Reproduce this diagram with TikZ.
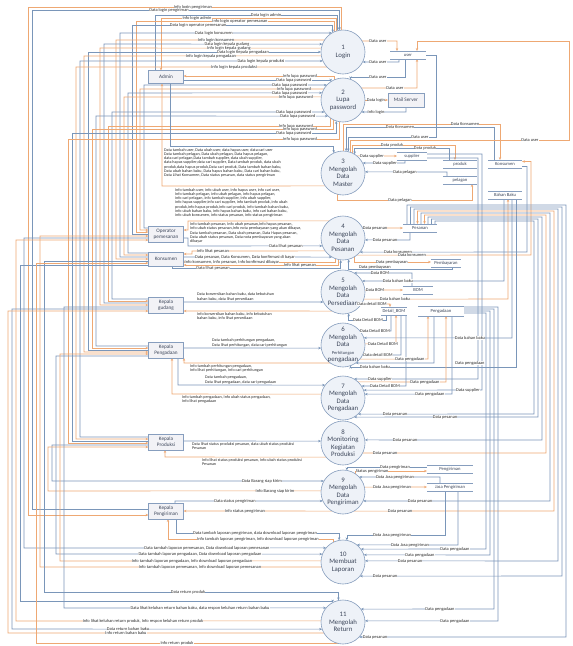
\documentclass[tikz,border=0pt]{standalone}
\usepackage{fontspec}
\setmainfont{Carlito}
\usetikzlibrary{arrows.meta}
\pgfdeclarelayer{back}
\pgfdeclarelayer{bg}
\pgfsetlayers{back,bg,main}
\definecolor{lor}{RGB}{238,168,115}
\definecolor{lbu}{RGB}{122,150,185}
\definecolor{pbd}{RGB}{135,158,190}
\definecolor{pfl}{RGB}{238,242,248}
\definecolor{efl}{RGB}{242,242,246}
\definecolor{txt}{RGB}{45,45,45}
\definecolor{ptx}{RGB}{60,70,90}
\expandafter\def\csname cyP1\endcsname{52}
\expandafter\def\csname cyP2\endcsname{100}
\expandafter\def\csname cyP3\endcsname{173}
\expandafter\def\csname cyP4\endcsname{238}
\expandafter\def\csname cyP5\endcsname{292}
\expandafter\def\csname cyP6\endcsname{345}
\expandafter\def\csname cyP7\endcsname{398}
\expandafter\def\csname cyP8\endcsname{443}
\expandafter\def\csname cyP9\endcsname{492}
\expandafter\def\csname cyP10\endcsname{562}
\expandafter\def\csname cyP11\endcsname{622}
% #1 side L/R, #2 process, #3 explicit anchor angle or empty, #4 y, #5 style, #6 label, #7 label x, #8 rest of path
\newcommand\FLW[8]{%
  \def\flwang{#3}%
  \begin{pgfonlayer}{bg}%
  \ifx\flwang\empty
    \pgfmathsetmacro\flwdy{\csname cy#2\endcsname-(#4)}%
    \ifx L#1%
      \pgfmathtruncatemacro\flwa{round(180-asin(\flwdy/22))}%
    \else
      \pgfmathtruncatemacro\flwa{mod(round(asin(\flwdy/22))+360,360)}%
    \fi
    \draw[#5] (#2.\flwa) -- #8;%
  \else
    \draw[#5] (#2.#3) |- #8;%
  \fi
  \end{pgfonlayer}%
  \def\flwlab{#6}%
  \ifx\flwlab\empty\else\node[lbl] at (#7,#4) {#6};\fi
}
\newcommand\LL[9]{\FLW{L}{#1}{#2}{#3}{#4}{#5}{#6}{(#7,#3) -- (#7,#9) -- (#8.west |- 0,#9)}}
\newcommand\procn[3]{\node[proc] (#1) at (343,#2) {}; \node[ptext] at (#1.center) {#3};}
\newcommand\store[6]{\node[store, minimum width=#4pt, minimum height=#6pt] (#1) at (#2,#3) {#5};
  \draw[sline] (#1.north west) -- (#1.north east) (#1.south west) -- (#1.south east);}
\begin{document}
\begin{tikzpicture}[x=1pt,y=-1pt,
  oline/.style={draw=lor, line width=0.6pt},
  bline/.style={draw=lbu, line width=0.6pt},
  ofl/.style={oline, -{Stealth[length=3pt,width=2.4pt]}},
  dfl/.style={bline, {Stealth[length=3pt,width=2.4pt]}-},
  lbl/.style={font=\fontsize{4.4}{4.6}\selectfont, fill=white, inner sep=0.15pt, text=txt},
  blk/.style={font=\fontsize{4.1}{4.3}\selectfont, align=left, inner sep=0, text=txt, anchor=north west},
  proc/.style={circle, draw=pbd, fill=pfl, minimum size=44pt, inner sep=0, outer sep=0, line width=0.6pt},
  ptext/.style={font=\fontsize{6.8}{7.5}\selectfont, align=center, text=ptx},
  ent/.style={rectangle, draw=pbd, fill=efl, minimum width=35pt, minimum height=14pt, inner sep=0, outer sep=0, font=\fontsize{5.2}{5.8}\selectfont, align=center, text=ptx, line width=0.5pt},
  store/.style={inner sep=0, outer sep=0, font=\fontsize{4.6}{5}\selectfont, text=ptx},
  sline/.style={draw=pbd, line width=0.5pt}]
\begin{pgfonlayer}{back}\fill[white] (0,0) rectangle (573,646);\end{pgfonlayer}
\useasboundingbox (0,0) rectangle (573,646);

% processes
\procn{P1}{52}{1\\Login}
\procn{P2}{100}{2\\Lupa\\password}
\procn{P3}{173}{3\\Mengolah\\Data\\Master}
\procn{P4}{238}{4\\Mengolah\\Data\\Pesanan}
\procn{P5}{292}{5\\Mengolah\\Data\\Persediaan}
\procn{P6}{345}{6\\Mengolah\\Data\\{\fontsize{4.5}{5}\selectfont Perhitungan}\\pengadaan}
\procn{P7}{398}{7\\Mengolah\\Data\\Pengadaan}
\procn{P8}{443}{8\\Monitoring\\Kegiatan\\Produksi}
\procn{P9}{492}{9\\Mengolah\\Data\\Pengiriman}
\procn{P10}{562}{10\\Membuat\\Laporan}
\procn{P11}{622}{11\\Mengolah\\Return}

% external entities
\node[ent, minimum height=13pt] (admin) at (166,77) {Admin};
\node[ent, minimum height=16pt] (op) at (166,234) {Operator\\pemesanan};
\node[ent] (kon) at (166,259) {Konsumen};
\node[ent, minimum height=16pt] (kg) at (166,305) {Kepala\\gudang};
\node[ent, minimum height=16pt] (kpa) at (166,350) {Kepala\\Pengadaan};
\node[ent, minimum height=16pt] (kpd) at (166,442) {Kepala\\Produksi};
\node[ent, minimum height=16pt] (kpr) at (166,511) {Kepala\\Pengiriman};
\node[ent, minimum width=36pt] (mail) at (406,100) {Mail Server};

% data stores
\store{user}{408}{55}{36}{user}{8}
\store{supp}{412}{156}{30}{supplier}{8}
\store{prod}{460}{164}{34}{produk}{8}
\store{pel}{460}{180}{34}{pelagan}{8}
\store{ks}{505}{164}{34}{Konsumen}{8}
\store{bb}{505}{195}{34}{Bahan Baku}{8}
\store{pes}{420}{228}{34}{Pesanan}{8}
\store{pem}{446}{263}{30}{Pembayaran}{8}
\store{bom}{418}{290}{30}{BOM}{8}
\store{dbom}{394}{311}{26}{Detail\_BOM}{8}
\store{pga}{441}{311}{46}{Pengadaan}{10}
\store{pgr}{450}{469}{46}{Pengiriman}{8}
\store{jasa}{450}{487}{46}{Jasa Pengiriman}{8}

% ---------- left flows ----------
% Login
\LL{P1}{94}{7}{ofl}{Info login pengiriman}{193}{28}{kpr}{515}
\LL{P1}{99}{10}{dfl}{Data login pengiriman}{169}{32}{kpr}{509}
\FLW{L}{P1}{104}{15}{dfl}{Data login admin}{266}{(155,15) -- (155,0 |- admin.north)}
\FLW{L}{P1}{109}{18}{ofl}{Info login admin}{197}{(161,18) -- (161,0 |- admin.north)}
\LL{P1}{114}{21}{ofl}{Info login operator pemesanan}{240}{136}{op}{232}
\LL{P1}{118}{25}{dfl}{Data login operator pemesanan}{198}{132}{op}{234}
\LL{P1}{}{33}{dfl}{Data login konsumen}{214}{120}{kon}{257}
\LL{P1}{}{40}{ofl}{Info login konsumen}{216}{116}{kon}{259}
\LL{P1}{}{44}{dfl}{Data login kepala gudang}{227}{104}{kg}{303}
\LL{P1}{}{48}{ofl}{Info login kepala gudang}{229}{100}{kg}{305}
\LL{P1}{}{52}{dfl}{Data login Kepala pengadaan}{243}{88}{kpa}{350}
\LL{P1}{}{56}{ofl}{Info login kepala pengadaan}{211}{84}{kpa}{352}
\LL{P1}{}{61}{dfl}{Data login kepala produksi}{261}{80}{kpd}{437}
\LL{P1}{}{67}{ofl}{Info login kepala produksi}{234}{76}{kpd}{439}
% Lupa password
\FLW{L}{P2}{112}{76}{ofl}{Info lupa password}{300}{(admin.east |- 0,76)}
\FLW{L}{P2}{124}{80}{dfl}{Data lupa password}{294}{(admin.east |- 0,80)}
\LL{P2}{}{85}{dfl}{Data lupa password}{290}{144}{op}{228}
\LL{P2}{}{89}{ofl}{Info lupa password}{294}{140}{op}{230}
\LL{P2}{}{93}{dfl}{Data lupa password}{290}{128}{kon}{253}
\LL{P2}{}{97}{ofl}{Info lupa password}{296}{124}{kon}{255}
\LL{P2}{}{112}{dfl}{Data lupa password}{294}{112}{kg}{299}
\LL{P2}{}{116}{dfl}{Data lupa password}{298}{96}{kpa}{346}
\LL{P2}{236}{126}{ofl}{Info lupa password}{296}{108}{kg}{301}
\LL{P2}{244}{129}{ofl}{Info lupa password}{300}{92}{kpa}{348}
\LL{P2}{252}{133}{dfl}{Data lupa password}{294}{72}{kpd}{441}
\LL{P2}{260}{139}{ofl}{Info lupa password}{300}{68}{kpd}{443}
% Data master
\FLW{L}{P3}{115}{146}{dfl}{}{0}{(170,146) -- (170,0 |- admin.south)}
\FLW{L}{P3}{}{186}{ofl}{}{0}{(162,186) -- (162,0 |- admin.south)}
\node[blk] at (164,148) {Data tambah user, Data ubah user, data hapus user, data cari user\\Data tambah pelagan, Data ubah pelagan, Data hapus pelagan,\\data cari pelagan,Data tambah supplier, data ubah supplier,\\data hapus supplier,data cari supplier, Data tambah produk, data ubah\\produk,data hapus produk,Data cari produk, Data tambah bahan baku,\\Data ubah bahan baku, Data hapus bahan baku, Data cari bahan baku,\\Data Lihat Konsumen, Data status pesanan, data status pengiriman};
\node[blk] at (175,188) {Info tambah user, info ubah user, info hapus user, info cari user,\\Info tambah pelagan, info ubah pelagan, info hapus pelagan,\\info cari pelagan, info tambah supplier, info ubah supplier,\\info hapus supplier,info cari supplier, info tambah produk, info ubah\\produk,info hapus produk,info cari produk, info tambah bahan baku,\\info ubah bahan baku, info hapus bahan baku, info cari bahan baku,\\info ubah konsumen, info status pesanan, info status pengiriman};
% Pesanan
\FLW{L}{P4}{}{221}{ofl}{}{0}{(188,221) -- (188,230) -- (op.east |- 0,230)}
\FLW{L}{P4}{}{246}{dfl}{Data lihat pesanan}{286}{(188,246) -- (188,238) -- (op.east |- 0,238)}
\node[blk] at (190,222.5) {Info tambah pesanan, Info ubah pesanan,Info hapus pesanan,\\Info ubah status pesanan,Info nota pembayaran yang akan dibayar,\\Data tambah pesanan, Data ubah pesanan, Data Hapus pesanan,\\Data ubah status pesanan, Data nota pembayaran yang akan\\dibayar};
\FLW{L}{P4}{}{251}{ofl}{Info lihat pesanan}{213}{(192,251) -- (192,254) -- (kon.east |- 0,254)}
\FLW{L}{P4}{}{257}{dfl}{Data pesanan, Data Konsumen, Data konfirmasi di bayar}{245}{(kon.east |- 0,257)}
\FLW{L}{P4}{250}{262}{ofl}{Info konsumen, Info pesanan, Info konfirmasi dibayar}{232}{(kon.east |- 0,262)}
\FLW{L}{P4}{258}{265}{ofl}{Info lihat pesanan}{300}{(kon.east |- 0,265)}
\FLW{L}{P4}{264}{268}{dfl}{Data lihat pesanan}{213}{(172,268) -- (172,0 |- kon.south)}
% Persediaan
\FLW{L}{P5}{}{302}{dfl}{}{0}{(kg.east |- 0,302)}
\FLW{L}{P5}{}{311}{ofl}{}{0}{(kg.east |- 0,311)}
\node[blk, anchor=south west] at (197,301) {Data konversikan bahan baku, data kebutuhan\\bahan baku, data lihat persediaan};
\node[blk] at (197,312.5) {Info konversikan bahan baku, info kebutuhan\\bahan baku, info lihat persediaan};
% Perhitungan pengadaan
\FLW{L}{P6}{}{348}{dfl}{}{0}{(kpa.east |- 0,348)}
\node[blk, anchor=south west] at (212,347) {Data tambah perhitungan pengadaan,\\Data lihat perhitungan, data cari perhitungan};
\FLW{L}{P6}{}{363}{ofl}{}{0}{(184,363) -- (184,0 |- kpa.south)}
\node[blk] at (190,364.5) {Info tambah perhitungan pengadaan,\\Info lihat perhitungan, Info cari perhitungan};
% Pengadaan
\FLW{L}{P7}{}{385}{dfl}{}{0}{(178,385) -- (178,0 |- kpa.south)}
\node[blk, anchor=south west] at (205,384) {Data tambah pengadaan,\\Data lihat pengadaan, data cari pengadaan};
\FLW{L}{P7}{}{394}{ofl}{}{0}{(172,394) -- (172,0 |- kpa.south)}
\node[blk] at (182,395.5) {Info tambah pengadaan, Info ubah status pengadaan,\\Info lihat pengadaan};
% Monitoring
\FLW{L}{P8}{}{441}{dfl}{}{0}{(kpd.east |- 0,441)}
\node[blk] at (192,442.5) {Data lihat status produksi pesanan, data ubah status produksi\\Pesanan};
\FLW{L}{P8}{}{457}{ofl}{}{0}{(165,457) -- (165,0 |- kpd.south)}
\node[blk] at (202,458.5) {Info lihat status produksi pesanan, Info ubah status produksi\\Pesanan};
% Pengiriman
\LL{P9}{}{481}{dfl}{Data Barang siap kirim}{262}{52}{kpd}{445}
\LL{P9}{}{491}{ofl}{Info Barang siap kirim}{275}{48}{kpd}{447}
\FLW{L}{P9}{}{501}{dfl}{Data status pengiriman}{235}{(175,501) -- (175,0 |- kpr.north)}
\FLW{L}{P9}{}{511}{ofl}{Info status pengiriman}{245}{(kpr.east |- 0,511)}
% Laporan
\FLW{L}{P10}{100}{533}{dfl}{Data tambah laporan pengiriman, data download laporan pengiriman}{255}{(176,533) -- (176,0 |- kpr.south)}
\FLW{L}{P10}{115}{539}{ofl}{Info tambah laporan pengiriman, Info download laporan pengiriman}{258}{(168,539) -- (168,0 |- kpr.south)}
\LL{P10}{}{548}{dfl}{Data tambah laporan pemesanan, Data download laporan pemesanan}{207}{24}{op}{238}
\LL{P10}{}{554}{dfl}{Data tambah laporan pengadaan, Data download laporan pengadaan}{200}{56}{kpa}{356}
\LL{P10}{}{561}{ofl}{Info tambah laporan pengadaan, Info download laporan pengadaan}{192}{60}{kpa}{354}
\LL{P10}{}{567}{ofl}{Info tambah laporan pemesanan, Info download laporan pemesanan}{200}{40}{op}{236}
% Return
\LL{P11}{102}{592}{dfl}{Data return produk}{188}{44}{kon}{261}
\LL{P11}{118}{601}{dfl}{}{0}{20}{kon}{265}
\LL{P11}{}{608}{dfl}{Data lihat keluhan return bahan baku, data respon keluhan return bahan baku}{200}{64}{kg}{307}
\LL{P11}{}{621}{ofl}{Info lihat keluhan return produk, Info respon keluhan return produk}{143}{16}{op}{240}
\LL{P11}{}{629}{dfl}{Data return bahan baku}{128}{12}{kg}{309}
\LL{P11}{}{633}{ofl}{Info return bahan baku}{126}{8}{kg}{311}
\LL{P11}{256}{643}{ofl}{Info return produk}{177}{36}{kon}{263}

% ---------- right flows ----------
\FLW{R}{P1}{}{41}{ofl}{Data user}{378}{(397,41) -- ([xshift=-11pt]user.north)}
\FLW{R}{P1}{}{62}{dfl}{Data user}{378}{(399,62) -- ([xshift=-9pt]user.south)}
\FLW{R}{P2}{70}{77}{dfl}{Data user}{378}{(405,77) -- ([xshift=-3pt]user.south)}
\FLW{R}{P2}{}{88}{ofl}{Data user}{395}{(417,88) -- ([xshift=9pt]user.south)}
\FLW{R}{P2}{}{100}{ofl}{Data login}{376}{(mail.west)}
\FLW{R}{P2}{}{112}{dfl}{Info login}{376}{(406,112) -- (mail.south)}
\FLW{R}{P3}{88}{124}{ofl}{Data Konsumen}{465}{(500,124) -- ([xshift=-5pt]ks.north)}
\FLW{R}{P3}{82}{127}{dfl}{Data Konsumen}{400}{(494,127) -- ([xshift=-11pt]ks.north)}
\FLW{R}{P3}{76}{137}{dfl}{Data user}{420}{(436,137) |- (user.east)}
\FLW{R}{P3}{70}{140}{ofl}{Data user}{530}{(569,140) -- (569,41) -| ([xshift=9pt]user.north)}
\FLW{R}{P3}{64}{145}{ofl}{Data produk}{392}{(455,145) -- ([xshift=-5pt]prod.north)}
\FLW{R}{P3}{58}{148}{dfl}{Data produk}{425}{(449,148) -- ([xshift=-11pt]prod.north)}
\FLW{R}{P3}{}{156}{ofl}{Data supplier}{372}{(supp.west)}
\FLW{R}{P3}{}{163}{dfl}{Data supplier}{385}{(405,163) -- ([xshift=-7pt]supp.south)}
\FLW{R}{P3}{}{172}{dfl}{Data pelagan}{405}{(447,172) -- ([xshift=-13pt]pel.north)}
\FLW{R}{P3}{255}{200}{ofl}{Data pelagan}{400}{(472,200) -- ([xshift=12pt]pel.south)}
\FLW{R}{P4}{}{228}{ofl}{Data pesanan}{375}{(pes.west)}
\FLW{R}{P4}{}{240}{dfl}{Data pesanan}{385}{(410,240) -- ([xshift=-10pt]pes.south)}
\FLW{R}{P4}{}{252}{dfl}{Data konsumen}{398}{(527,252) |- ([yshift=-2.5pt]ks.east)}
\FLW{R}{P4}{}{255}{ofl}{Data konsumen}{412}{(531,255) |- ([yshift=2.5pt]ks.east)}
\FLW{R}{P4}{300}{262}{ofl}{Data pembayaran}{392}{(pem.west |- 0,262)}
\FLW{R}{P4}{285}{267}{dfl}{Data pembayaran}{375}{(452,269) -- ([xshift=6pt]pem.south)}
\FLW{R}{P5}{}{273}{dfl}{Data BOM}{380}{(412,273) -- ([xshift=-6pt]bom.north)}
\FLW{R}{P5}{}{281}{dfl}{Data bahan baku}{398}{(504,281) -- ([xshift=-1pt]bb.south)}
\FLW{R}{P5}{}{290}{ofl}{Data BOM}{375}{(bom.west)}
\FLW{R}{P5}{}{299}{ofl}{Data bahan baku}{395}{(508,299) -- ([xshift=3pt]bb.south)}
\FLW{R}{P5}{}{304}{ofl}{Data detail BOM}{372}{(390,304) -- ([xshift=-4pt]dbom.north)}
\FLW{R}{P5}{285}{320}{dfl}{Data Detail BOM}{368}{(386,320) -- ([xshift=-8pt]dbom.south)}
\FLW{R}{P6}{}{331}{dfl}{Data Detail BOM}{375}{(391,331) -- ([xshift=-3pt]dbom.south)}
\FLW{R}{P6}{}{338}{dfl}{Data bahan baku}{470}{(512,338) -- ([xshift=7pt]bb.south)}
\FLW{R}{P6}{}{344}{ofl}{Data Detail BOM}{383}{(396,344) -- ([xshift=2pt]dbom.south)}
\FLW{R}{P6}{}{355}{dfl}{Data detail BOM}{378}{(401,355) -- ([xshift=7pt]dbom.south)}
\FLW{R}{P6}{}{359}{ofl}{Data pengadaan}{410}{(428,359) -- ([xshift=-13pt]pga.south)}
\FLW{R}{P6}{}{363}{dfl}{Data pengadaan}{470}{(434,363) -- ([xshift=-7pt]pga.south)}
\FLW{R}{P6}{290}{367}{dfl}{Data bahan baku}{375}{(516,367) -- ([xshift=11pt]bb.south)}
\FLW{R}{P7}{}{379}{dfl}{Data supplier}{380}{(478,379) |- ([yshift=-2pt]supp.east)}
\FLW{R}{P7}{}{382}{ofl}{Data pengadaan}{425}{(446,382) -- ([xshift=5pt]pga.south)}
\FLW{R}{P7}{}{386}{dfl}{Data Detail BOM}{385}{(406,386) -- ([xshift=12pt]dbom.south)}
\FLW{R}{P7}{}{390}{dfl}{Data supplier}{468}{(482,390) |- ([yshift=2pt]supp.east)}
\FLW{R}{P7}{}{394}{dfl}{Data pengadaan}{430}{(452,394) -- ([xshift=11pt]pga.south)}
\FLW{R}{P7}{}{414}{dfl}{Data pesanan}{395}{(534,414) |- (435,221) -- (435,0 |- pes.north)}
\FLW{R}{P7}{}{417}{dfl}{Data pesanan}{445}{(538,417) |- (431.5,219) -- (431.5,0 |- pes.north)}
\FLW{R}{P8}{}{440}{dfl}{Data pesanan}{405}{(542,440) |- (428,217) -- (428,0 |- pes.north)}
\FLW{R}{P8}{}{453}{ofl}{Data pesanan}{385}{(546,453) |- (424.5,215) -- (424.5,0 |- pes.north)}
\FLW{R}{P9}{80}{467}{dfl}{Data pengiriman}{395}{(pgr.west |- 0,467)}
\FLW{R}{P9}{55}{471}{ofl}{Status pengiriman}{372}{(pgr.west |- 0,471)}
\FLW{R}{P9}{}{477}{dfl}{Data Jasa pengiriman}{395}{(440,477) -- ([xshift=-10pt]jasa.north)}
\FLW{R}{P9}{}{487}{ofl}{Data Jasa pengiriman}{392}{(jasa.west)}
\FLW{R}{P9}{}{501}{dfl}{Data pesanan}{420}{(550,501) |- (421,213) -- (421,0 |- pes.north)}
\FLW{R}{P9}{}{511}{ofl}{Data pesanan}{400}{(554,511) |- (417.5,211) -- (417.5,0 |- pes.north)}
\FLW{R}{P10}{80}{535}{dfl}{Data Jasa pengiriman}{392}{(445,535) -- ([xshift=-5pt]jasa.south)}
\FLW{R}{P10}{}{545}{dfl}{Data Jasa pengiriman}{410}{(458,545) -- ([xshift=8pt]jasa.south)}
\FLW{R}{P10}{}{549}{dfl}{Data pengadaan}{455}{(486,549) |- ([yshift=-2pt]pga.east)}
\FLW{R}{P10}{}{555}{dfl}{Data pengadaan}{420}{(490,555) |- (pga.east)}
\FLW{R}{P10}{}{561}{dfl}{Data pesanan}{410}{(558,561) |- (414,209) -- (414,0 |- pes.north)}
\FLW{R}{P10}{}{576}{dfl}{Data pesanan}{385}{(562,576) |- (410.5,207) -- (410.5,0 |- pes.north)}
\FLW{R}{P11}{}{609}{dfl}{Data pengadaan}{440}{(494,609) |- ([yshift=2pt]pga.east)}
\FLW{R}{P11}{}{621}{dfl}{Data pengadaan}{455}{(498,621) |- ([yshift=4pt]pga.east)}
\FLW{R}{P11}{}{637}{dfl}{Data pesanan}{375}{(566,637) |- (407,205) -- (407,0 |- pes.north)}
\end{tikzpicture}
\end{document}
